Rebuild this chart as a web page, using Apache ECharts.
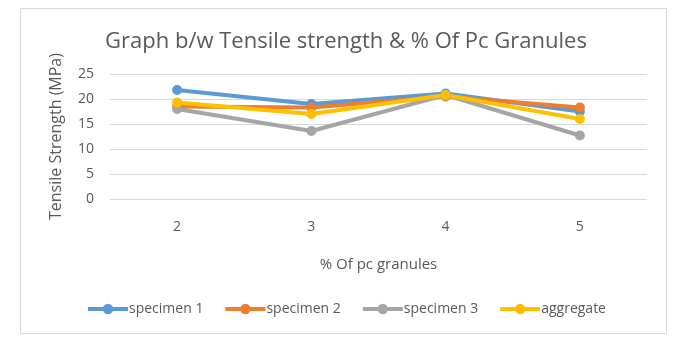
<!DOCTYPE html>
<html>
<head>
<meta charset="utf-8">
<script src="https://cdn.jsdelivr.net/npm/echarts@6/dist/echarts.min.js"></script>
<style>html,body{margin:0;padding:0;background:#fff;}#c{width:692px;height:346px;}</style>
</head>
<body>
<div id="c"></div>
<script>
var categories = ['2', '3', '4', '5'];
var specimen1 = [21.8, 19.0, 21.1, 17.5];
var specimen2 = [18.5, 18.3, 20.5, 18.3];
var specimen3 = [18.0, 13.6, 20.8, 12.7];
var aggregate = [19.3, 17.0, 20.8, 16.0];
var seriesNames = ['specimen 1', 'specimen 2', 'specimen 3', 'aggregate'];
var colors = ['#5B9BD5', '#ED7D31', '#A5A5A5', '#FFC000'];
var FONT = 'Open Sans';
var chart = echarts.init(document.getElementById('c'));
var data = [specimen1, specimen2, specimen3, aggregate];
chart.setOption({
  animation: false,
  color: colors,
  title: {
    text: 'Graph b/w Tensile strength & % Of Pc Granules',
    left: 'center', top: 26,
    textStyle: { fontFamily: FONT, fontSize: 22, fontWeight: 'normal', color: '#595959' }
  },
  graphic: [{
    type: 'rect', shape: { x: 20.5, y: 8.5, width: 646, height: 325 },
    style: { fill: 'none', stroke: '#D9D9D9', lineWidth: 1 }, silent: true
  }],
  legend: {
    bottom: 25, left: 'center',
    itemWidth: 40, itemHeight: 13, itemGap: 20,
    lineStyle: { width: 4 },
    textStyle: { fontFamily: FONT, fontSize: 14, color: '#595959', padding: [0, 0, 0, -4] },
    data: seriesNames
  },
  grid: { left: 110, right: 45, top: 74, bottom: 147 },
  xAxis: {
    type: 'category', data: categories,
    name: '% Of pc granules', nameLocation: 'middle', nameGap: 58,
    nameTextStyle: { fontFamily: FONT, fontSize: 15, color: '#595959' },
    axisLine: { show: false }, axisTick: { show: false },
    axisLabel: { fontFamily: FONT, fontSize: 14, color: '#595959', margin: 21 }
  },
  yAxis: {
    type: 'value', min: 0, max: 25, interval: 5,
    name: 'Tensile Strength (MPa)', nameLocation: 'middle', nameGap: 46,
    nameTextStyle: { fontFamily: FONT, fontSize: 16, color: '#595959' },
    axisLine: { show: false }, axisTick: { show: false },
    axisLabel: { fontFamily: FONT, fontSize: 14, color: '#595959', margin: 16 },
    splitLine: { lineStyle: { color: '#D9D9D9', width: 1 } }
  },
  series: data.map(function (d, i) {
    return {
      name: seriesNames[i], type: 'line', data: d,
      symbol: 'circle', symbolSize: 10,
      lineStyle: { width: 4, color: colors[i] },
      itemStyle: { color: colors[i] }
    };
  })
});
</script>
</body>
</html>
